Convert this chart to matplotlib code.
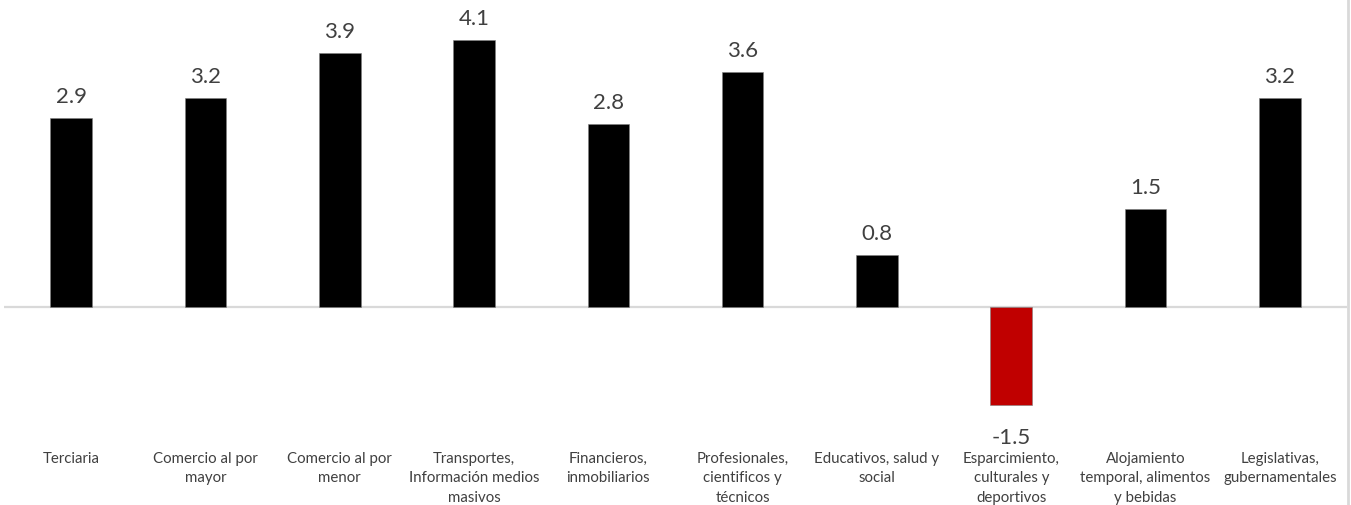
import matplotlib
matplotlib.use("Agg")
import matplotlib.pyplot as plt
import numpy as np

plt.rcParams['font.family'] = ['Lato', 'DejaVu Sans']

categories = [
    "Terciaria",
    "Comercio al por\nmayor",
    "Comercio al por\nmenor",
    "Transportes,\nInformación medios\nmasivos",
    "Financieros,\ninmobiliarios",
    "Profesionales,\ncientificos y\ntécnicos",
    "Educativos, salud y\nsocial",
    "Esparcimiento,\nculturales y\ndeportivos",
    "Alojamiento\ntemporal, alimentos\ny bebidas",
    "Legislativas,\ngubernamentales",
]
values = [2.9, 3.2, 3.9, 4.1, 2.8, 3.6, 0.8, -1.5, 1.5, 3.2]

POS_COLOR = "#000000"
NEG_COLOR = "#C00000"
TEXT_COLOR = "#404040"
AXIS_COLOR = "#D9D9D9"

fig = plt.figure(figsize=(13.51, 5.06), dpi=100)
W, H = 1351, 506
# axes spans pixel rows 0..420 and columns 4..1347
ax = fig.add_axes([4 / W, (H - 420) / H, (1347 - 4) / W, 420 / H])

x = np.arange(len(values))
colors = [NEG_COLOR if v < 0 else POS_COLOR for v in values]
ax.bar(x, values, width=0.31, color=colors, edgecolor="#7f7f7f",
       linewidth=0.4, zorder=2)

px_per_unit = 65.2
ax.set_ylim(-112 / px_per_unit, 308 / px_per_unit)
ax.set_xlim(-0.5, len(values) - 0.5)

ax.axhline(0, color=AXIS_COLOR, linewidth=1.6, zorder=1)

for xi, v in zip(x, values):
    offset = 22 if v >= 0 else -32
    ax.annotate(f"{v:.1f}", (xi, v), xytext=(0, offset), textcoords="offset pixels",
                ha="center", va="center", fontsize=16, color=TEXT_COLOR)

ax.set_xticks(x)
ax.set_xticklabels(categories, fontsize=10.8, color=TEXT_COLOR, linespacing=1.5)
ax.tick_params(axis="x", length=0, pad=23)
ax.set_yticks([])
for s in ax.spines.values():
    s.set_visible(False)

# right-hand frame line of the chart area
fig.add_artist(plt.Line2D([1348 / W, 1348 / W], [0, 1], color=AXIS_COLOR,
                          linewidth=2, transform=fig.transFigure))

fig.savefig("out.png", dpi=100, facecolor="white")
